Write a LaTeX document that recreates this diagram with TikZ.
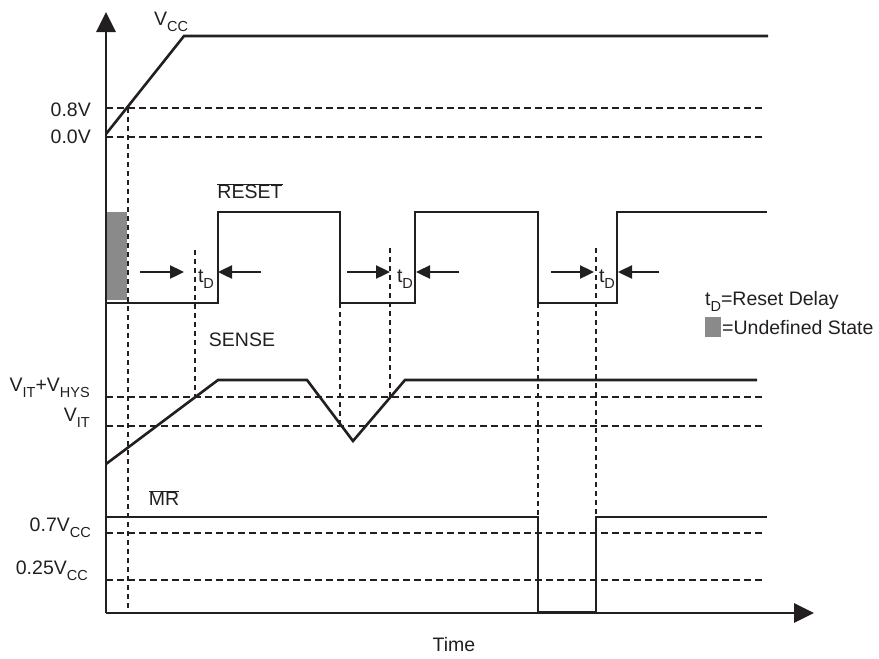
\documentclass[tikz,border=0pt]{standalone}
\usepackage{fontspec}
\setmainfont{Liberation Sans}
\usetikzlibrary{arrows.meta}
\definecolor{ink}{RGB}{35,31,32}
\definecolor{undefgray}{RGB}{138,138,138}
\newcommand\subtxt[1]{\raisebox{-0.32em}{\fontsize{14.5}{15}\selectfont #1}}
\newcommand\barred[1]{$\overline{\mbox{#1}}$}

\begin{document}
\begin{tikzpicture}[x=1pt,y=-1pt,
  sig/.style={line width=2.6pt,draw=ink},
  level/.style={line width=2.2pt,draw=ink,dash pattern=on 7pt off 4pt},
  drop/.style={line width=2.2pt,draw=ink,dash pattern=on 5pt off 4pt},
  axis/.style={line width=2.8pt,draw=ink,-{Triangle[length=20pt,width=19pt]}},
  delay/.style={line width=2.4pt,draw=ink,-{Triangle[length=14pt,width=13pt]}},
  lbl/.style={font=\fontsize{19.5}{23}\selectfont,text=ink,inner sep=0pt}
]
  \useasboundingbox (0,0) rectangle (879,659);
  % axes
  \coordinate (O) at (106,613);
  \draw[axis] (O) -- (106,12);
  \draw[axis] (O) -- (814,613);
  % reference levels
  \foreach \y in {108,137,397,426,533,580}
    \draw[level] (106,\y) -- (763,\y);
  % drop lines
  \draw[drop] (128,108) -- (128,613);
  \draw[drop] (195,250) -- (195,397);
  \draw[drop] (340,303) -- (340,426);
  \draw[drop] (390,248) -- (390,397);
  \draw[drop] (538,303) -- (538,517);
  \draw[drop] (596,248) -- (596,517);
  % undefined state
  \fill[undefgray] (107,212) rectangle (127,300);
  % signals
  \draw[sig] (106,134) -- (184,36) -- (768,36);
  \draw[sig] (106,303) -- (218,303) -- (218,212) -- (340,212) -- (340,303)
    -- (415,303) -- (415,212) -- (538,212) -- (538,303) -- (617,303)
    -- (617,212) -- (767,212);
  \draw[sig] (106,464) -- (218,380) -- (307,380) -- (353,441) -- (405,380)
    -- (757,380);
  \draw[sig] (106,517) -- (538,517) -- (538,612) -- (596,612) -- (596,517)
    -- (767,517);
  % reset delays
  \foreach \a/\b/\c/\d in {140/184/261/218,347/390/459/416,551/594/659/618}{
    \draw[delay] (\a,272) -- (\b,272);
    \draw[delay] (\c,272) -- (\d,272);
  }
  \node[lbl] (td1) at (206,279) {t\subtxt{D}};
  \node[lbl] (td2) at (405,279) {t\subtxt{D}};
  \node[lbl] (td3) at (607,279) {t\subtxt{D}};
  % signal names
  \node[lbl] (vcc) at (171,22) {V\subtxt{CC}};
  \node[lbl] (reset) at (250,191) {\barred{RESET}};
  \node[lbl] (sense) at (242,340) {SENSE};
  \node[lbl] (mr) at (164,498) {\barred{MR}};
  \node[lbl] (time) at (454,645) {Time};
  % level labels
  \node[lbl,anchor=east] (l08) at (91,110) {0.8V};
  \node[lbl,anchor=east] (l00) at (91,137) {0.0V};
  \node[lbl,anchor=east] (lhys) at (90,388) {V\subtxt{IT}+V\subtxt{HYS}};
  \node[lbl,anchor=east] (lit) at (90,418) {V\subtxt{IT}};
  \node[lbl,anchor=east] (l07) at (91,528) {0.7V\subtxt{CC}};
  \node[lbl,anchor=east] (l025) at (88,571) {0.25V\subtxt{CC}};
  % legend
  \node[lbl,anchor=base west] (tdkey) at (705,305) {t\subtxt{D}=Reset Delay};
  \fill[undefgray] (705,317) rectangle (721,337);
  \node[lbl,anchor=base west] (ukey) at (722,334) {=Undefined State};
\end{tikzpicture}
\end{document}
